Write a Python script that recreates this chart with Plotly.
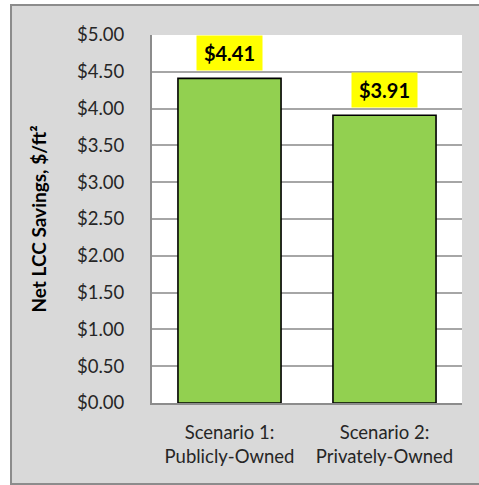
import plotly.graph_objects as go

categories = ["Scenario 1:<br>Publicly-Owned", "Scenario 2:<br>Privately-Owned"]
values = [4.41, 3.91]
labels = ["$4.41", "$3.91"]
y_title = "Net LCC Savings, $/ft²"

FONT = "Lato, 'Open Sans', sans-serif"

fig = go.Figure()
fig.add_trace(go.Bar(
    x=categories, y=values,
    marker=dict(color="#92d050", line=dict(color="#000000", width=1.6)),
    hoverinfo="skip",
))

for c, v, t in zip(categories, values, labels):
    fig.add_annotation(
        x=c, y=v, text="<b>%s</b>" % t, showarrow=False,
        yanchor="bottom", yshift=7, bgcolor="#ffff00",
        width=65, height=34, borderpad=0,
        font=dict(family=FONT, size=20, color="#000000"),
    )

# outer chart-area box and plot-area background
fig.add_shape(type="rect", xref="paper", yref="paper",
              x0=-0.4548, x1=1.075, y0=-0.220, y1=1.0815,
              fillcolor="#d9d9d9", line=dict(color="#8c8c8c", width=2),
              layer="below")
fig.add_shape(type="rect", xref="paper", yref="paper",
              x0=0, x1=1, y0=0, y1=1,
              fillcolor="#ffffff", line=dict(width=0),
              layer="below")

fig.update_layout(
    width=479, height=485,
    margin=dict(l=152, r=17, t=35, b=82),
    paper_bgcolor="#ffffff", plot_bgcolor="#ffffff",
    bargap=0.335, showlegend=False,
    font=dict(family=FONT, color="#262626"),
)
fig.update_yaxes(
    range=[0, 5], dtick=0.5, tickformat="$.2f",
    showgrid=True, gridcolor="#a6a6a6", gridwidth=2,
    showline=True, linecolor="#8c8c8c", linewidth=2,
    zeroline=False, ticks="", ticklabelstandoff=22,
    tickfont=dict(family=FONT, size=18.5, color="#262626"),
    title=dict(text="<b>%s</b>" % y_title, standoff=25,
               font=dict(family=FONT, size=19, color="#000000")),
    fixedrange=True,
)
fig.update_xaxes(
    showline=True, linecolor="#8c8c8c", linewidth=2,
    ticks="", ticklabelstandoff=12,
    tickfont=dict(family=FONT, size=18.5, color="#262626"),
    fixedrange=True,
)

fig.write_html(
    "out.html", config={"displayModeBar": False},
    post_script=("document.body.style.margin='0';"
                 "document.body.style.overflow='hidden';"
                 "document.documentElement.style.overflow='hidden';"),
)
